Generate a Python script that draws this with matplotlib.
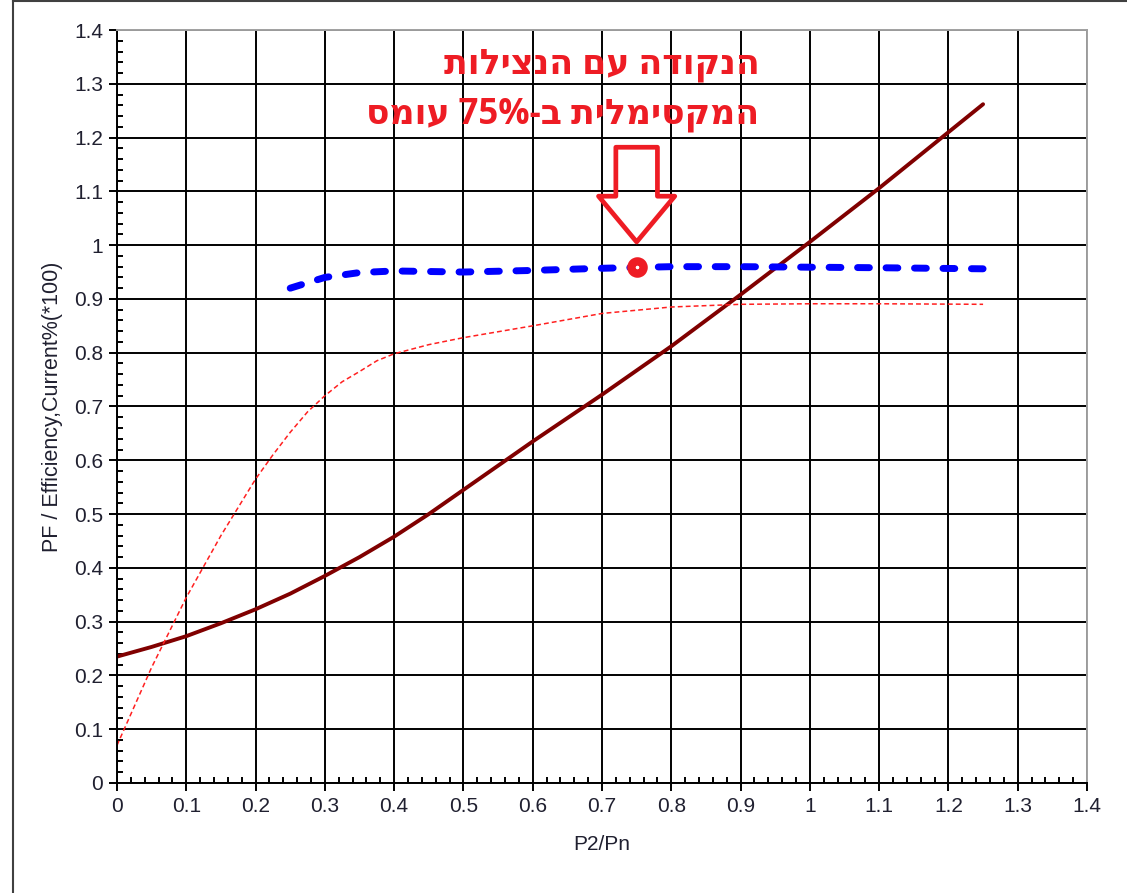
import re

import matplotlib
matplotlib.use("Agg")
import matplotlib.pyplot as plt
from matplotlib.lines import Line2D
from matplotlib.patches import Polygon
from matplotlib.ticker import MultipleLocator

# current (brown solid)
cur_load = [0, 0.05, 0.1, 0.15, 0.2, 0.25, 0.3, 0.35, 0.4, 0.45, 0.5, 0.6,
            0.7, 0.8, 0.9, 1.0, 1.1, 1.2, 1.25]
current = [0.235, 0.253, 0.273, 0.297, 0.323, 0.352, 0.385, 0.42, 0.458, 0.5,
           0.545, 0.635, 0.722, 0.812, 0.908, 1.006, 1.106, 1.21, 1.262]

# power factor (thin red dotted)
pf_load = [0, 0.05, 0.1, 0.15, 0.2, 0.225, 0.25, 0.275, 0.3, 0.325, 0.35,
           0.375, 0.4, 0.45, 0.5, 0.6, 0.7, 0.8, 0.9, 1.0, 1.1, 1.25]
pf = [0.07, 0.215, 0.345, 0.46, 0.565, 0.61, 0.652, 0.69, 0.72, 0.746, 0.765,
      0.785, 0.798, 0.815, 0.828, 0.85, 0.873, 0.885, 0.89, 0.891, 0.891, 0.89]

# efficiency (thick blue dashed)
eff_load = [0.25, 0.3, 0.35, 0.4, 0.5, 0.6, 0.7, 0.8, 0.9, 1.0, 1.1, 1.25]
eff = [0.92, 0.94, 0.949, 0.952, 0.95, 0.953, 0.957, 0.96, 0.96, 0.959,
       0.958, 0.956]

# highlighted point: max efficiency at 75% load
best_load = 0.75
best_eff = 0.96

note_lines = ["הנקודה עם הנצילות", "המקסימלית ב-75% עומס"]

RED = "#ee1c24"
TICK_FONT = ["Liberation Sans", "DejaVu Sans"]


def rtl(s):
    """Visual order for a right-to-left line (keeps digit runs LTR)."""
    r = s[::-1]
    return re.sub(r"[0-9%]+", lambda m: m.group(0)[::-1], r)


fig = plt.figure(figsize=(11.27, 8.93), dpi=100)
ax = fig.add_axes([117 / 1127, 110 / 893, 970 / 1127, 753 / 893])

ax.plot(cur_load, current, color="#800000", lw=2.8, solid_capstyle="round")
ax.plot(pf_load, pf, color="#ff2020", lw=1.1, dashes=(3.2, 2.0))
ax.plot(eff_load, eff, color="#0000ff", lw=5.0, dashes=(1.7, 2.4),
        dash_capstyle="round")
ax.plot([best_load], [best_eff], "o", ms=8.8, mfc="white", mec=RED, mew=6.0)

# hollow arrow pointing down at the highlighted point
tip_y = best_eff + 0.046
head_y = tip_y + 0.085
top_y = head_y + 0.091
hw, sw = 0.055, 0.03
arrow = Polygon(
    [(best_load, tip_y), (best_load + hw, head_y), (best_load + sw, head_y),
     (best_load + sw, top_y), (best_load - sw, top_y), (best_load - sw, head_y),
     (best_load - hw, head_y)],
    closed=True, fill=False, edgecolor=RED, lw=3.4, joinstyle="round", zorder=5,
)
ax.add_patch(arrow)

for yv, line in zip([1.336, 1.243], note_lines):
    ax.text(0.927, yv, rtl(line), color=RED, fontsize=25, fontweight="bold",
            ha="right", va="center", family=["Open Sans", "DejaVu Sans"],
            zorder=6)

ax.set_xlim(0, 1.4)
ax.set_ylim(0, 1.4)
ax.xaxis.set_major_locator(MultipleLocator(0.1))
ax.yaxis.set_major_locator(MultipleLocator(0.1))
ax.xaxis.set_minor_locator(MultipleLocator(0.02))
ax.yaxis.set_minor_locator(MultipleLocator(0.02))
ax.grid(which="major", color="black", lw=1.4)
ax.set_axisbelow(True)

fmt = lambda v, _: "0" if abs(v) < 1e-9 else ("1" if abs(v - 1) < 1e-9 else f"{v:.1f}")
ax.xaxis.set_major_formatter(fmt)
ax.yaxis.set_major_formatter(fmt)

ax.tick_params(which="major", direction="out", length=6, width=1.4,
               labelsize=15, labelcolor="#202030", pad=4)
ax.tick_params(which="minor", direction="in", length=4, width=1.4)
for lab in ax.get_xticklabels() + ax.get_yticklabels():
    lab.set_family(TICK_FONT)

for side in ("left", "bottom"):
    ax.spines[side].set_color("black")
    ax.spines[side].set_linewidth(1.4)
for side in ("top", "right"):
    ax.spines[side].set_color("#a0a0a0")
    ax.spines[side].set_linewidth(1.4)

ax.set_xlabel("P2/Pn", fontsize=15, color="#202030", family=TICK_FONT,
              labelpad=14)
ax.set_ylabel("PF / Efficiency,Current%(*100)", fontsize=15.5, color="#202030",
              family=TICK_FONT, labelpad=8)

# screenshot frame (left and top edges)
fig.add_artist(Line2D([13 / 1127, 13 / 1127], [0, 1 - 1 / 893],
                      color="#404040", lw=1.5))
fig.add_artist(Line2D([13 / 1127, 1], [1 - 1 / 893, 1 - 1 / 893],
                      color="#404040", lw=1.5))

fig.savefig("out.png", dpi=100)
